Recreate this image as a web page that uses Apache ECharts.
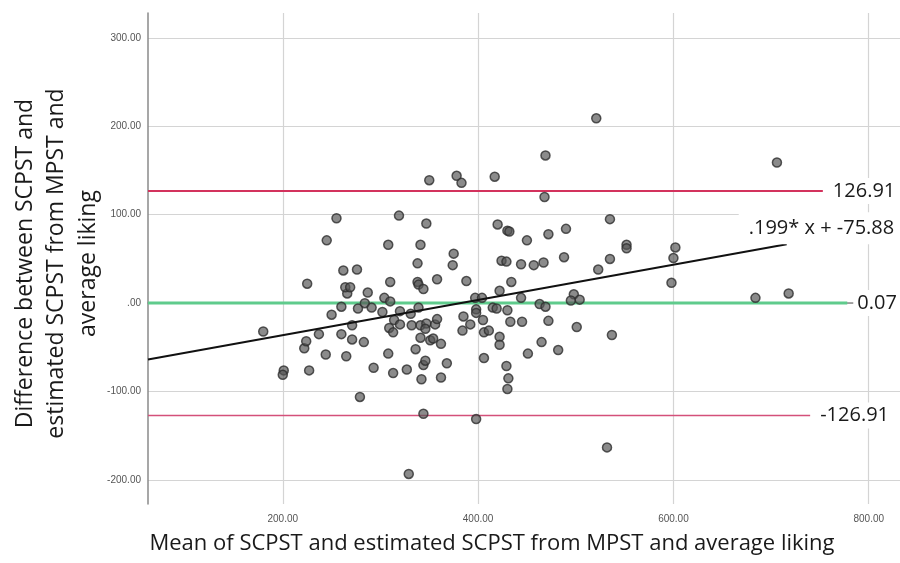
<!DOCTYPE html>
<html>
<head>
<meta charset="utf-8">
<script src="https://cdn.jsdelivr.net/npm/echarts@6/dist/echarts.min.js"></script>
<style>
  html, body { margin: 0; padding: 0; background: #fff; }
  #main { width: 900px; height: 563px; }
</style>
</head>
<body>
<div id="main"></div>
<script>
// Bland-Altman data
const meanVals = [180, 201, 200, 227, 225, 222, 224, 237, 244, 245, 255, 250, 260, 260, 262, 266, 264, 269,
  271, 271, 265, 276, 277, 283, 279, 284, 291, 287, 293, 302, 304, 310, 308, 308, 310, 319, 314, 320, 309,
  313, 320, 313, 327, 329, 331, 332, 336, 338, 338, 339, 339, 341, 341, 347, 346, 341, 342, 344, 346, 344,
  347, 350, 344, 351, 354, 358, 356, 358, 362, 362, 368, 375, 374, 378, 383, 388, 384, 385, 392, 397, 404,
  398, 398, 398, 405, 406, 411, 406, 415, 419, 417, 420, 422, 422, 422, 424, 429, 430, 432, 430, 433, 434,
  429, 431, 430, 444, 444, 445, 450, 451, 457, 467, 468, 469, 463, 469, 465, 472, 472, 482, 488, 490, 498,
  495, 504, 501, 521, 523, 535, 535, 537, 532, 552, 552, 602, 600, 598, 684, 718, 706];
const diffVals = [-32, -76, -81, -76, 22, -51, -43, -35, -58, 71, 96, -13, -4, -35, 37, 11, 18, 18,
  -25, -41, -60, 38, -6, -44, -106, 0, -5, 12, -73, -10, 6, 2, 66, -57, 24, 99, -19, -24, -28,
  -33, -9, -79, -75, -193, -12, -25, -52, 45, 24, 21, -5, 66, -25, -23, -29, -39, -86, -70, -65, -125,
  90, 139, 16, -42, -40, 27, -24, -18, -46, -84, -68, 56, 43, 144, 136, 25, -31, -15, -24, 6, 6,
  -7, -11, -131, -19, -33, -31, -62, -5, -6, 143, 89, 14, -38, -47, 48, 47, 82, 81, -8, -21, 24,
  -71, -85, -97, 44, 6, -21, 71, -57, 43, 46, 120, 167, -1, -4, -44, 78, -20, -53, 52, 84, 10,
  3, 4, -27, 209, 38, 95, 50, -36, -163, 66, 62, 63, 51, 23, 6, 11, 159];

const xRange = [62, 832];
const yRange = [-227, 328];

// reference lines: value and where the drawn line stops (x)
const upperLoA = 126.91, upperEnd = 753;
const meanDiff = 0.07, meanEnd = 778;
const lowerLoA = -126.91, lowerEnd = 740;
const slope = 0.199, intercept = -75.88, fitEnd = 716;

const xTitle = 'Mean of SCPST and estimated SCPST from MPST and average liking';
const yTitle = 'Difference between SCPST and\nestimated SCPST from MPST and\naverage liking';

const myChart = echarts.init(document.getElementById('main'));

const points = meanVals.map((x, i) => [x, diffVals[i]]);
const fit = x => slope * x + intercept;

function refLine(y, xEnd, color, width, text) {
  return {
    type: 'line',
    data: [[xRange[0], y], [xEnd, y]],
    symbol: 'none',
    silent: true,
    lineStyle: { color: color, width: width },
    endLabel: {
      show: true,
      formatter: () => text,
      fontFamily: 'Open Sans',
      fontSize: 20,
      color: '#1a1a1a',
      backgroundColor: '#fff',
      padding: [3, 4],
      distance: 6
    },
    z: 3
  };
}

const tickFmt = v => (v % 100 === 0 ? (v === 0 ? '.00' : v.toFixed(2)) : '');

const options = {
  animation: false,
  grid: { left: 148, right: 0, top: 13, bottom: 59, outerBoundsMode: 'none', containLabel: false },
  xAxis: {
    type: 'value',
    min: xRange[0],
    max: xRange[1],
    splitNumber: 4,
    name: xTitle,
    nameLocation: 'middle',
    nameGap: 29,
    nameMoveOverlap: false,
    nameTextStyle: { fontFamily: 'Open Sans', fontSize: 22, color: '#1a1a1a', padding: [0, 64, 0, 0] },
    axisLine: { lineStyle: { color: '#8a8a8a', width: 1.5 } },
    axisTick: { show: false },
    axisLabel: { showMinLabel: false, showMaxLabel: false, formatter: tickFmt,
      fontFamily: 'Liberation Sans', fontSize: 10, color: '#555', margin: 10 },
    splitLine: { showMinLine: false, showMaxLine: false, lineStyle: { color: '#d4d4d4', width: 1.2 } }
  },
  yAxis: {
    type: 'value',
    min: yRange[0],
    max: yRange[1],
    splitNumber: 5,
    name: yTitle,
    nameLocation: 'middle',
    nameRotate: 90,
    nameGap: 44,
    nameMoveOverlap: false,
    nameTextStyle: { fontFamily: 'Open Sans', fontSize: 23, color: '#1a1a1a', lineHeight: 31.5, padding: [0, 10, 0, 0] },
    axisLine: { show: true, lineStyle: { color: '#8a8a8a', width: 1.5 } },
    axisTick: { show: false },
    axisLabel: { showMinLabel: false, showMaxLabel: false, formatter: tickFmt,
      fontFamily: 'Liberation Sans', fontSize: 10, color: '#555', margin: 7 },
    splitLine: { showMinLine: false, showMaxLine: false, lineStyle: { color: '#d4d4d4', width: 1.2 } }
  },
  series: [
    {
      type: 'scatter',
      data: points,
      symbolSize: 9,
      itemStyle: { color: 'rgba(85,85,85,0.85)', borderColor: '#2e2e2e', borderWidth: 1.5 },
      z: 4
    },
    refLine(upperLoA, upperEnd, '#d3325d', 2, upperLoA.toFixed(2)),
    refLine(meanDiff, meanEnd, '#5fcb8c', 3, meanDiff.toFixed(2)),
    refLine(lowerLoA, lowerEnd, '#d4507a', 1.5, lowerLoA.toFixed(2)),
    {
      type: 'line',
      data: [[xRange[0], fit(xRange[0])], [fitEnd, fit(fitEnd)]],
      symbol: 'none',
      silent: true,
      lineStyle: { color: '#111', width: 2 },
      endLabel: {
        show: true,
        formatter: () => '.199* x + -75.88',
        fontFamily: 'Open Sans',
        fontSize: 20,
        color: '#1a1a1a',
        backgroundColor: '#fff',
        padding: [6, 10],
        offset: [-56, -16]
      },
      z: 5
    }
  ]
};

myChart.setOption(options);
</script>
</body>
</html>
